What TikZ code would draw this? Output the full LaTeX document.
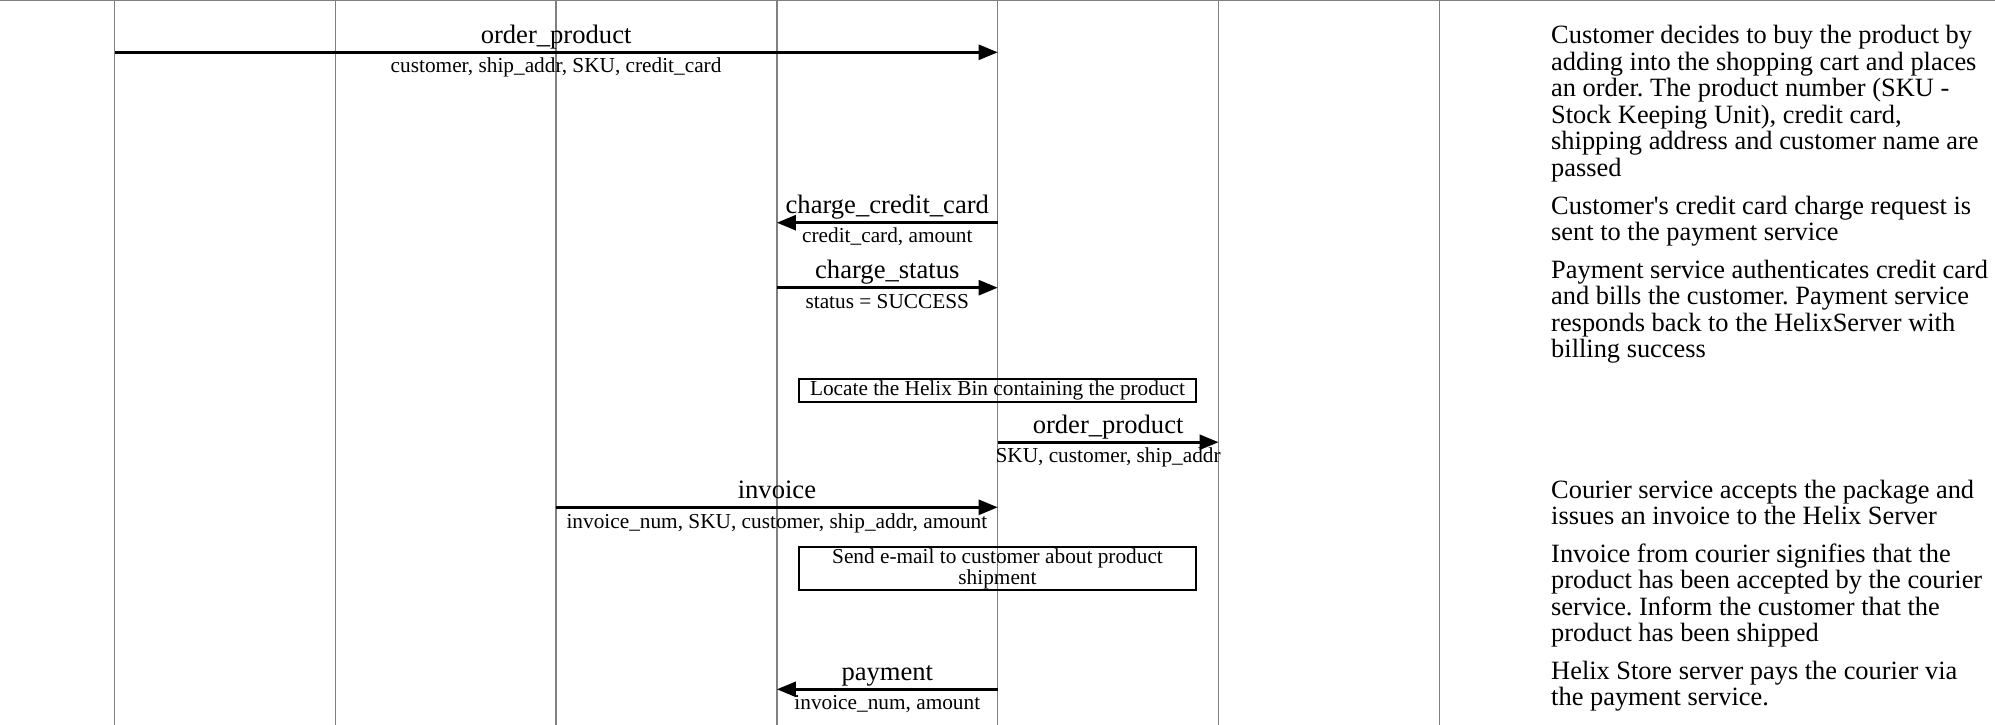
\documentclass[tikz,border=0pt]{standalone}
\usepackage{fontspec}
\setmainfont{Liberation Serif}
\usetikzlibrary{arrows.meta}
\definecolor{lifegray}{RGB}{128,128,128}
\frenchspacing
\tikzset{
  life/.style={draw=lifegray, line width=1.5pt},
  msg/.style={draw=black, line width=2.6pt, -{Triangle[length=19pt,width=15pt]}},
  biglab/.style={anchor=base, inner sep=0pt, font=\fontsize{26.6}{28}\selectfont},
  smalllab/.style={anchor=base, inner sep=0pt, font=\fontsize{21.3}{21}\selectfont},
  actbox/.style={draw=black, line width=2pt, minimum width=397pt, inner sep=0pt, align=center, font=\fontsize{21.3}{21}\selectfont},
  desc/.style={anchor=base west, inner sep=0pt, font=\fontsize{26.4}{26.4}\selectfont},
}
\begin{document}
\frenchspacing
\begin{tikzpicture}[x=1pt,y=-1pt]
\useasboundingbox (0,0) rectangle (1995,725);
% lifelines
\foreach \x [count=\i] in {114.5,335.3,556.1,776.9,997.7,1218.5,1439.3} {
  \coordinate (t\i) at (\x,0);
  \coordinate (b\i) at (\x,725);
  \draw[life] (t\i) -- (b\i);
}
\coordinate (tl) at (0,0.75);
\coordinate (tr) at (1995,0.75);
\draw[life] (tl) -- (tr);

% message 1
\coordinate (m1s) at (114.5,52.3); \coordinate (m1e) at (997.7,52.3);
\draw[msg] (m1s) -- (m1e);
\node[biglab] (l1) at (556.1,43.7) {order\_product};
\node[smalllab] (s1) at (556.1,72.7) {customer, ship\_addr, SKU, credit\_card};

% message 2
\coordinate (m2s) at (997.7,222.7); \coordinate (m2e) at (776.9,222.7);
\draw[msg] (m2s) -- (m2e);
\node[biglab] (l2) at (887.3,213) {charge\_credit\_card};
\node[smalllab] (s2) at (887.3,242.7) {credit\_card, amount};

% message 3
\coordinate (m3s) at (776.9,287.7); \coordinate (m3e) at (997.7,287.7);
\draw[msg] (m3s) -- (m3e);
\node[biglab] (l3) at (887.3,278.3) {charge\_status};
\node[smalllab] (s3) at (887.3,308) {status = SUCCESS};

% box 1
\node[actbox, minimum height=23.5pt] (box1) at (997.5,390.5) {Locate the Helix Bin containing the product};

% message 5
\coordinate (m5s) at (997.7,442.2); \coordinate (m5e) at (1218.5,442.2);
\draw[msg] (m5s) -- (m5e);
\node[biglab] (l5) at (1108.1,433) {order\_product};
\node[smalllab] (s5) at (1108.1,462) {SKU, customer, ship\_addr};

% message 6
\coordinate (m6s) at (556.1,507.3); \coordinate (m6e) at (997.7,507.3);
\draw[msg] (m6s) -- (m6e);
\node[biglab] (l6) at (776.9,498) {invoice};
\node[smalllab] (s6) at (776.9,528.3) {invoice\_num, SKU, customer, ship\_addr, amount};

% box 2
\node[actbox, minimum height=43.5pt] (box2) at (997.5,568.4) {Send e-mail to customer about product\\shipment};

% message 8
\coordinate (m8s) at (997.7,689.3); \coordinate (m8e) at (776.9,689.3);
\draw[msg] (m8s) -- (m8e);
\node[biglab] (l8) at (887.3,680) {payment};
\node[smalllab] (s8) at (887.3,709.3) {invoice\_num, amount};

% descriptions
\foreach \t [count=\i] in {{Customer decides to buy the product by},{adding into the shopping cart and places},{an order. The product number (SKU -},{Stock Keeping Unit), credit card,},{shipping address and customer name are},{passed}}
  \node[desc] (pa\i) at (1551,{44+26.4*(\i-1)}) {\t};
\foreach \t [count=\i] in {{Customer\textquotesingle s credit card charge request is},{sent to the payment service}}
  \node[desc] (pb\i) at (1551,{214+26.4*(\i-1)}) {\t};
\foreach \t [count=\i] in {{Payment service authenticates credit card},{and bills the customer. Payment service},{responds back to the HelixServer with},{billing success}}
  \node[desc] (pc\i) at (1551,{278.3+26.4*(\i-1)}) {\t};
\foreach \t [count=\i] in {{Courier service accepts the package and},{issues an invoice to the Helix Server}}
  \node[desc] (pd\i) at (1551,{498+26.4*(\i-1)}) {\t};
\foreach \t [count=\i] in {{Invoice from courier signifies that the},{product has been accepted by the courier},{service. Inform the customer that the},{product has been shipped}}
  \node[desc] (pe\i) at (1551,{562.5+26.4*(\i-1)}) {\t};
\foreach \t [count=\i] in {{Helix Store server pays the courier via},{the payment service.}}
  \node[desc] (pf\i) at (1551,{679.5+26.4*(\i-1)}) {\t};
\end{tikzpicture}
\end{document}
